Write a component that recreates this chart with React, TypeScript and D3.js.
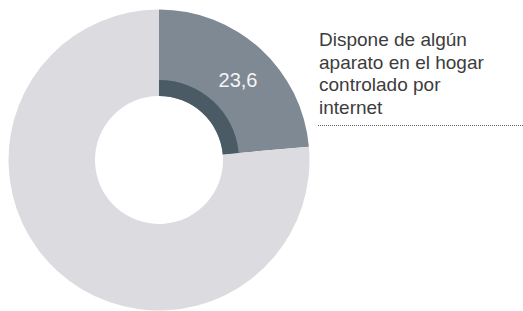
import { useEffect, useRef } from 'react';
import * as d3 from 'd3';

// share of households (percent)
const categories = ['Dispone', 'Resto'];
const values = [23.6, 76.4];
const valueLabels = ['23,6', ''];
const legendLines = ['Dispone de algún', 'aparato en el hogar', 'controlado por', 'internet'];

const W = 523;
const H = 311;

export default function App() {
  const ref = useRef<SVGSVGElement>(null);

  useEffect(() => {
    const svg = d3.select(ref.current);
    svg.selectAll('*').remove();

    const cx = 159;
    const cy = 160;
    const rOuter = 150.5;
    const rInner = 64;
    const rBand = 80;

    const data = categories.map((c, i) => ({ cat: c, value: values[i], label: valueLabels[i] }));
    const pie = d3.pie<any>().value(d => d.value).sort(null);
    const arcs = pie(data);

    const g = svg.append('g').attr('transform', `translate(${cx},${cy})`);

    const outerArc = d3.arc<any>().innerRadius(rInner).outerRadius(rOuter);
    const bandArc = d3.arc<any>().innerRadius(rInner).outerRadius(rBand);
    const labelArc = d3.arc<any>().innerRadius(114).outerRadius(114);

    const fills = ['#7e8993', '#dcdce0'];

    g.selectAll('path.slice')
      .data(arcs)
      .enter().append('path')
      .attr('class', 'slice')
      .attr('d', outerArc)
      .attr('fill', (d, i) => fills[i]);

    // darker inner band on the highlighted slice
    g.append('path')
      .attr('d', bandArc(arcs[0]))
      .attr('fill', '#4b5b65');

    g.selectAll('text.val')
      .data(arcs.filter(d => d.data.label))
      .enter().append('text')
      .attr('class', 'val')
      .attr('transform', d => {
        const [x, y] = labelArc.centroid(d);
        return `translate(${x + 2},${y + 4})`;
      })
      .attr('text-anchor', 'middle')
      .attr('dominant-baseline', 'central')
      .attr('font-family', 'Liberation Sans, Arial, sans-serif')
      .attr('font-size', 20)
      .attr('fill', '#f4f5f6')
      .text(d => d.data.label);

    // legend text
    const lx = 319;
    const ly0 = 46;
    const lh = 22.5;
    svg.selectAll('text.leg')
      .data(legendLines)
      .enter().append('text')
      .attr('class', 'leg')
      .attr('x', lx)
      .attr('y', (d, i) => ly0 + i * lh)
      .attr('font-family', 'Liberation Sans, Arial, sans-serif')
      .attr('font-size', 19)
      .attr('fill', '#3c3c3c')
      .text(d => d);

    svg.append('line')
      .attr('x1', lx - 1)
      .attr('x2', W)
      .attr('y1', 125.5)
      .attr('y2', 125.5)
      .attr('stroke', '#666')
      .attr('stroke-width', 1)
      .attr('stroke-dasharray', '1,1');
  }, []);

  return (
    <svg
      ref={ref}
      width={W}
      height={H}
      style={{ position: 'absolute', left: 0, top: 0, background: '#fff' }}
    />
  );
}
